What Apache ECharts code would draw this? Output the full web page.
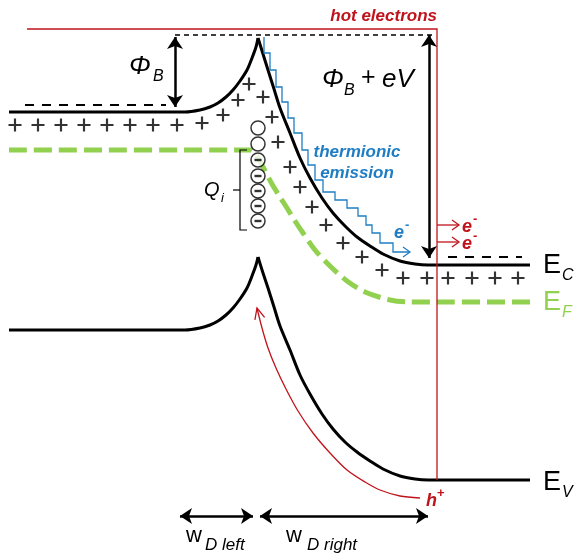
<!DOCTYPE html>
<html><head><meta charset="utf-8">
<script src="https://cdn.jsdelivr.net/npm/echarts@6/dist/echarts.min.js"></script>
<style>html,body{margin:0;padding:0;background:#fff}#c{width:574px;height:556px}</style>
</head><body><div id="c"></div>
<script>
// ---- band-diagram data (x: position, y: energy, drawn in a 574x556 frame, y downward) ----
const ecLeft  = [[9,112],[185,112],[200,110],[210,107],[218,103],[226,97],[233,90],[240,81],[247,70],[252,58],[256,47],[258,38]];
const ecRight = [[258,38],[263,54],[268,70],[274,89],[280,108],[290,133],[300,158],[310,178],[322,198],[333,213],[345,226],[357,237],[370,246],[383,254],[400,261],[415,264],[428,265],[530,265]];
const evLeft  = [[9,330],[185,330],[200,328],[210,325],[218,321],[226,315],[233,308],[240,299],[247,288],[252,276],[256,265],[258,257]];
const evRight = [[258,257],[263,273],[268,288],[274,307],[280,326],[290,350],[300,375],[310,394],[322,414],[333,429],[345,442],[357,452],[370,461],[383,469],[400,476],[415,479],[428,480],[530,480]];
const efLevel = [[9,150],[250,150],[256,155],[263,167],[272,184],[280,197],[287,208],[295,221],[303,233],[315,250],[330,266],[347,281],[365,292],[390,300],[410,302],[430,302],[530,302]];
const plusSigns = [[15,125],[38,125],[61,125],[84,125],[107,125],[130,125],[153,125],[177,125],[202,123],[223,115],[238,100],[249,84],
  [263,97],[272,117],[278,142],[290,167],[300,187],[312,207],[326,225],[343,243],[362,257],[382,270],[403,278],[427,278],[448,278],[472,278],[495,278],[518,278]];
const stateX = 258;
const emptyStatesY  = [128,144];
const filledStatesY = [160,176,191,206,221];
const dashTop   = [[175,35],[432,35]];
const dashLeft  = [[25,105],[166,105]];
const dashRight = [[448,257],[522,257]];
const hotPath   = [[27,29],[437,29],[437,480]];
const hotBranchY = [225,242];
const holePath  = [[420,498],[400,496],[380,490],[365,482],[347,470],[330,453],[313,433],[298,411],[286,389],[276,368],[268,348],[262,328],[257,308]];
const thermStairs = [[264,37],[264,53],[270,53],[270,70],[276,70],[276,87],[282,87],[282,102],[288,102],[288,118],[294,118],[294,133],[302,133],[302,150],[308,150],[308,165],[315,165],[315,180],[323,180],[323,192],[335,192],[335,200],[347,200],[347,208],[358,208],[358,216],[366,216],[366,225],[372,225],[372,233],[380,233],[380,243],[393,243],[393,252],[410,252]];
const phiBArrow  = [[175,37],[175,107]];
const phiBVArrow = [[429,35],[429,258]];
const wLeftArrow  = [[180,516],[253,516]];
const wRightArrow = [[260,516],[428,516]];
const qBracket = [[247,150],[240,150],[240,230],[247,230]];
const qTick = [[233,190],[240,190]];

const FF = "'Liberation Sans', Arial, Helvetica, sans-serif";
const RED = '#c0141c', BLUE = '#1f7dc4', GREEN = '#92d050', BLACK = '#000';

function curve(data, color, width, type, z) {
  return {type:'line', data, symbol:'none', showSymbol:false, smooth:0.3, lineStyle:{color, width, type:type||'solid', cap:'butt', join:'round'}, z:z||3, animation:false, silent:true};
}
function poly(coords, color, width, opts) {
  opts = opts || {};
  return {type:'lines', coordinateSystem:'cartesian2d', polyline:true, data:[{coords}],
    lineStyle:{color, width, opacity:1, type:opts.type||'solid', join:'miter'},
    z:opts.z||4, animation:false, silent:true};
}
function arrow(coords, color, width, size) {
  return {type:'lines', coordinateSystem:'cartesian2d', polyline:false, data:[{coords}],
    lineStyle:{color, width, opacity:1, curveness:0},
    symbol:['arrow','arrow'], symbolSize:size, z:5, animation:false, silent:true};
}
function chevron(tip, dir, len, spread) {
  // open arrow head around a tip point, direction dir = [dx,dy] (unit)
  const [x,y] = tip, [dx,dy] = dir, px = -dy, py = dx;
  return [[x - dx*len + px*spread, y - dy*len + py*spread],[x,y],[x - dx*len - px*spread, y - dy*len - py*spread]];
}

const series = [
  curve(efLevel, GREEN, 5, [18,7], 1),
  curve(ecLeft, BLACK, 3),
  curve(ecRight, BLACK, 3),
  curve(evLeft, BLACK, 3),
  curve(evRight, BLACK, 3),
  poly(dashTop, BLACK, 1.5, {type:[5,4]}),
  poly(dashLeft, BLACK, 2, {type:[9,8]}),
  poly(dashRight, BLACK, 2, {type:[9,8]}),
  poly(hotPath, RED, 1.3),
  curve(holePath, RED, 1.3, 'solid', 4),
  poly(chevron([257,308],[-0.25,-0.97],11,5), RED, 1.3),
  poly(thermStairs, BLUE, 1.3),
  poly(chevron([410,252],[1,0],7,5), BLUE, 1.3),
  arrow(phiBArrow, BLACK, 2.5, 12),
  arrow(phiBVArrow, BLACK, 2.5, 12),
  arrow(wLeftArrow, BLACK, 2.5, 12),
  arrow(wRightArrow, BLACK, 2.5, 12),
  poly(qBracket, BLACK, 1.2),
  poly(qTick, BLACK, 1.2),
  {type:'scatter', data:plusSigns, symbol:'path://M5,0h2v5h5v2h-5v5h-2v-5h-5v-2h5z', symbolSize:13, itemStyle:{color:BLACK}, z:4, animation:false, silent:true},
  {type:'scatter', data:emptyStatesY.concat(filledStatesY).map(y => [stateX, y]), symbol:'circle', symbolSize:14, itemStyle:{color:'#fff', borderColor:BLACK, borderWidth:1.5}, z:6, animation:false, silent:true},
  {type:'scatter', data:filledStatesY.map(y => [stateX, y]), symbol:'rect', symbolSize:[7,2.4], itemStyle:{color:BLACK}, z:7, animation:false, silent:true}
];
hotBranchY.forEach(y => {
  series.push(poly([[437,y],[458,y]], RED, 1.3));
  series.push(poly(chevron([459,y],[1,0],7,5), RED, 1.3));
});

function T(text, x, y, size, o) {
  o = o || {};
  return {type:'text', x, y, z:100, silent:true, style:{text, fontSize:size, fontFamily:FF,
    fontStyle:o.italic?'italic':'normal', fontWeight:o.bold?'bold':'normal', fill:o.color||BLACK,
    align:o.align||'left', verticalAlign:'middle', textAlign:o.align||'left', textVerticalAlign:'middle'}};
}
const texts = [
  T('hot electrons', 437, 16, 17, {italic:true, bold:true, color:RED, align:'right'}),
  T('Φ', 129, 67, 26, {italic:true}), T('B', 153, 77, 16, {italic:true}),
  T('Φ', 322, 80, 26, {italic:true}), T('B', 344, 91, 16, {italic:true}),
  T('+', 361, 78, 25), T('eV', 382, 80, 26, {italic:true}),
  T('E', 543, 266, 27), T('C', 562, 276, 16, {italic:true}),
  T('E', 543, 303, 27, {color:GREEN}), T('F', 562, 313, 16, {italic:true, color:GREEN}),
  T('E', 543, 483, 27), T('V', 562, 493, 16, {italic:true}),
  T('Q', 204, 190, 20, {italic:true}), T('i', 221, 198, 13, {italic:true}),
  T('thermionic', 357, 152, 17, {italic:true, bold:true, color:BLUE, align:'center'}),
  T('emission', 357, 173, 17, {italic:true, bold:true, color:BLUE, align:'center'}),
  T('e', 394, 233, 18, {italic:true, bold:true, color:BLUE}), T('-', 405, 225, 13, {bold:true, color:BLUE}),
  T('e', 462, 227, 18, {italic:true, bold:true, color:RED}), T('-', 473, 219, 13, {bold:true, color:RED}),
  T('e', 462, 244, 18, {italic:true, bold:true, color:RED}), T('-', 473, 236, 13, {bold:true, color:RED}),
  T('h', 426, 501, 18, {italic:true, bold:true, color:RED}), T('+', 437, 493, 13, {bold:true, color:RED}),
  T('w', 186, 536, 22), T('D left', 205, 545, 17, {italic:true}),
  T('w', 286, 536, 22), T('D right', 307, 545, 17, {italic:true})
];

const chart = echarts.init(document.getElementById('c'), null, {renderer:'canvas'});
chart.setOption({
  animation:false,
  backgroundColor:'#fff',
  grid:{left:0, right:0, top:0, bottom:0},
  xAxis:{type:'value', min:0, max:574, show:false},
  yAxis:{type:'value', min:0, max:556, inverse:true, show:false},
  series,
  graphic:texts
});
</script></body></html>
